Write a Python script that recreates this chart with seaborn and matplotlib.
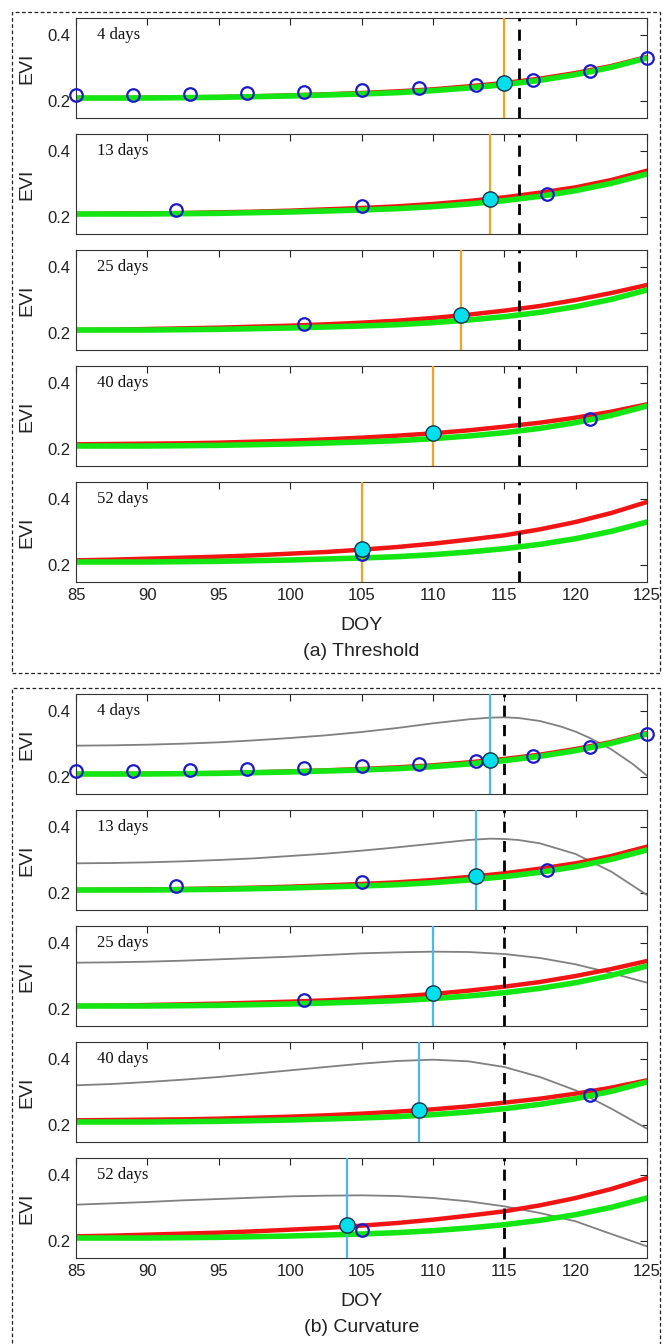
import numpy as np
import pandas as pd
import seaborn as sns
import matplotlib
matplotlib.use("Agg")
import matplotlib.pyplot as plt
from matplotlib.patches import Rectangle

# ---------------- data ----------------
panel_labels = ["4 days", "13 days", "25 days", "40 days", "52 days"]
doy_ticks = [85, 90, 95, 100, 105, 110, 115, 120, 125]
evi_ticks = [0.2, 0.4]

doy_grid = [85, 87.5, 90, 92.5, 95, 97.5, 100, 102.5, 105, 107.5, 110, 112.5, 115, 117.5, 120, 122.5, 125]
green_fit = [.210, .210, .210, .211, .212, .214, .216, .219, .222, .226, .232, .240, .250, .263, .280, .302, .330]
red_4d = [.210, .210, .211, .212, .213, .215, .218, .221, .225, .230, .236, .245, .255, .268, .285, .306, .333]
red_13d = [.210, .211, .212, .213, .215, .217, .220, .224, .228, .233, .240, .249, .260, .274, .290, .312, .340]
red_25d = [.210, .211, .213, .215, .217, .220, .223, .227, .232, .238, .246, .256, .268, .282, .300, .321, .345]
red_40d = [.215, .216, .217, .218, .220, .223, .226, .230, .235, .241, .248, .257, .268, .280, .295, .313, .335]
red_52d = [.215, .217, .220, .223, .226, .230, .235, .240, .247, .255, .265, .277, .290, .308, .330, .357, .390]

obs_doy_4d = [85, 89, 93, 97, 101, 105, 109, 113, 117, 121, 125]
obs_evi_4d = [0.220, 0.220, 0.222, 0.225, 0.228, 0.233, 0.240, 0.250, 0.265, 0.290, 0.330]
obs_doy_13d = [92, 105, 118]
obs_evi_13d = [0.222, 0.233, 0.270]
obs_doy_25d = [101]
obs_evi_25d = [0.228]
obs_doy_40d = [121]
obs_evi_40d = [0.290]
obs_doy_52d = [105]
obs_evi_52d = [0.233]

thr_onset_doy = [115, 114, 112, 110, 105]
thr_onset_evi = [0.255, 0.255, 0.255, 0.250, 0.250]
thr_true_onset = 116

curv_onset_doy = [114, 113, 110, 109, 104]
curv_onset_evi = [0.252, 0.252, 0.248, 0.245, 0.248]
curv_true_onset = 115

curv_doy_4d = [85, 87.5, 90, 92.5, 95, 97.5, 100, 102.5, 105, 107.5, 110, 112.5, 114, 115, 116, 117.5, 119, 120, 121, 122.5, 124, 125]
curv_val_4d = [.295, .296, .298, .301, .305, .311, .318, .326, .336, .348, .362, .374, .379, .380, .378, .369, .352, .337, .318, .284, .240, .205]
curv_doy_13d = [85, 87.5, 90, 92.5, 95, 97.5, 100, 102.5, 105, 107.5, 110, 112.5, 114, 115, 116, 117.5, 120, 122.5, 125]
curv_val_13d = [.290, .291, .293, .296, .300, .305, .312, .319, .328, .338, .349, .360, .364, .363, .360, .350, .318, .265, .195]
curv_doy_25d = [85, 87.5, 90, 92.5, 95, 97.5, 100, 102.5, 105, 107.5, 110, 112.5, 115, 117.5, 120, 122.5, 125]
curv_val_25d = [.340, .341, .343, .346, .350, .354, .358, .363, .368, .371, .373, .372, .366, .354, .335, .309, .280]
curv_doy_40d = [85, 87.5, 90, 92.5, 95, 97.5, 100, 102.5, 105, 107.5, 110, 112.5, 115, 117.5, 120, 122.5, 125]
curv_val_40d = [.320, .324, .330, .337, .345, .355, .365, .375, .385, .393, .397, .392, .375, .345, .305, .250, .190]
curv_doy_52d = [85, 87.5, 90, 92.5, 95, 97.5, 100, 102.5, 105, 107.5, 110, 112.5, 115, 117.5, 120, 122.5, 125]
curv_val_52d = [.310, .314, .318, .323, .327, .331, .335, .337, .338, .336, .330, .320, .305, .285, .260, .222, .185]

red_fits = [red_4d, red_13d, red_25d, red_40d, red_52d]
obs_doys = [obs_doy_4d, obs_doy_13d, obs_doy_25d, obs_doy_40d, obs_doy_52d]
obs_evis = [obs_evi_4d, obs_evi_13d, obs_evi_25d, obs_evi_40d, obs_evi_52d]
curv_doys = [curv_doy_4d, curv_doy_13d, curv_doy_25d, curv_doy_40d, curv_doy_52d]
curv_vals = [curv_val_4d, curv_val_13d, curv_val_25d, curv_val_40d, curv_val_52d]

# ---------------- style ----------------
sns.set_style("white")
plt.rcParams["font.family"] = ["Liberation Sans", "DejaVu Sans"]

W, H = 663, 1344
fig = plt.figure(figsize=(W / 100, H / 100), dpi=100)

AX_L, AX_W, AX_H = 76, 571, 100
tops_a = [18, 134, 250, 366, 482]
tops_b = [694, 810, 926, 1042, 1158]

C_RED = "#F01414"
C_GREEN = "#14E614"
C_GRAY = "#808080"
C_ORANGE = "#EAA52A"
C_LBLUE = "#4DB8EA"
C_OBS = "#1A1AC8"
C_CYAN = "#00E0EC"


def make_panel(top, i, group):
    ax = fig.add_axes([AX_L / W, 1 - (top + AX_H) / H, AX_W / W, AX_H / H])
    if group == "b":
        sns.lineplot(x=curv_doys[i], y=curv_vals[i], ax=ax, color=C_GRAY, lw=1.3)
    sns.lineplot(x=doy_grid, y=red_fits[i], ax=ax, color=C_RED, lw=3.2)
    sns.lineplot(x=doy_grid, y=green_fit, ax=ax, color=C_GREEN, lw=4.0)
    if group == "a":
        ax.axvline(thr_onset_doy[i], color=C_ORANGE, lw=1.6, zorder=3)
        ax.axvline(thr_true_onset, color="k", lw=2.0, ls=(0, (4, 3)), zorder=3)
        odoy, oevi = thr_onset_doy[i], thr_onset_evi[i]
    else:
        ax.axvline(curv_onset_doy[i], color=C_LBLUE, lw=1.6, zorder=3)
        ax.axvline(curv_true_onset, color="k", lw=2.0, ls=(0, (4, 3)), zorder=3)
        odoy, oevi = curv_onset_doy[i], curv_onset_evi[i]
    sns.lineplot(x=obs_doys[i], y=obs_evis[i], ax=ax, marker="o", linestyle="",
                 mfc="none", mec=C_OBS, ms=9, mew=1.6, clip_on=False, zorder=4)
    sns.lineplot(x=[odoy], y=[oevi], ax=ax, marker="o", linestyle="",
                 mfc=C_CYAN, mec="#16324A", ms=11, mew=1.0, clip_on=False, zorder=5)
    ax.set_xlim(85, 125)
    ax.set_ylim(0.15, 0.45)
    ax.set_xticks(doy_ticks)
    ax.set_yticks(evi_ticks)
    ax.set_yticklabels(["0.2", "0.4"])
    ax.tick_params(direction="in", top=True, right=True, length=5, width=0.8,
                   labelsize=12, colors="#222222", pad=4)
    if i < 4:
        ax.set_xticklabels([])
    ax.set_xlabel("")
    ax.set_ylabel("EVI", fontsize=14, color="#222222")
    ax.yaxis.set_label_coords((35 - AX_L) / AX_W, 0.5)
    for sp in ax.spines.values():
        sp.set_color("#333333")
        sp.set_linewidth(0.8)
    ax.text(86.5, 0.4, panel_labels[i], family=["Liberation Serif", "DejaVu Serif"],
            fontsize=12, va="center", ha="left", color="#111111")
    return ax


for i, t in enumerate(tops_a):
    make_panel(t, i, "a")
for i, t in enumerate(tops_b):
    make_panel(t, i, "b")

cx = (AX_L + AX_W / 2) / W
fig.text(cx, 1 - 626 / H, "DOY", fontsize=14, ha="center", va="center", color="#222222")
fig.text(cx, 1 - 651 / H, "(a) Threshold", fontsize=14, ha="center", va="center", color="#222222")
fig.text(cx, 1 - 1302 / H, "DOY", fontsize=14, ha="center", va="center", color="#222222")
fig.text(cx, 1 - 1327 / H, "(b) Curvature", fontsize=14, ha="center", va="center", color="#222222")

for (y0, y1) in [(12, 673), (688, 1352)]:
    fig.add_artist(Rectangle((12 / W, 1 - y1 / H), (660 - 12) / W, (y1 - y0) / H,
                             transform=fig.transFigure, fill=False, ec="#222222",
                             lw=0.9, ls=(0, (3, 2))))

fig.savefig("out.png", dpi=100)
